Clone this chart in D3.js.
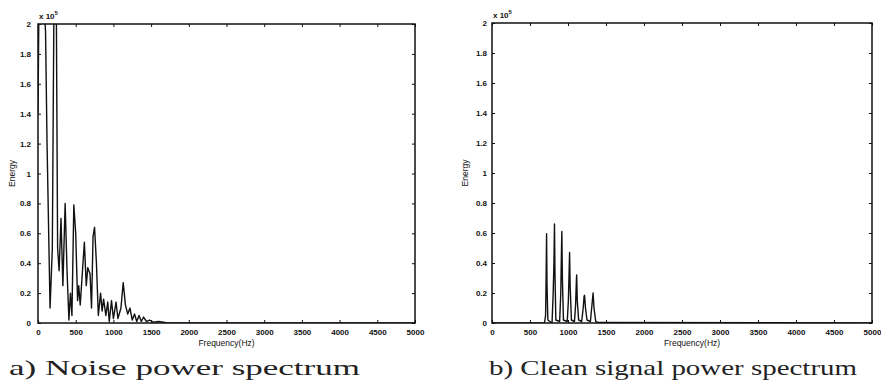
<!DOCTYPE html>
<html>
<head>
<meta charset="utf-8">
<script src="https://cdn.jsdelivr.net/npm/d3@7"></script>
<style>
  body { margin: 0; background: #fff; }
  svg { display: block; }
  .tick text { font-family: "Liberation Sans", Arial, sans-serif; font-weight: bold; font-size: 8px; }
</style>
</head>
<body>
<svg id="chart" width="881" height="387"></svg>
<script>
// values in units of 10^5, frequencies in Hz
var noiseFreq = [0, 20, 60, 100, 120, 160, 190, 215, 240, 260, 280, 305, 330, 360, 385, 410, 430, 450,
  475, 500, 525, 540, 560, 590, 615, 640, 660, 690, 710, 730, 750, 775, 800, 830, 850, 870, 900,
  925, 945, 975, 1000, 1035, 1060, 1100, 1130, 1160, 1190, 1220, 1250, 1280, 1310, 1340, 1370,
  1400, 1440, 1480, 1530, 1600, 1700, 2000, 5000];
var noiseEnergy = [1.4, 2.6, 2.3, 1.95, 1.2, 0.1, 0.5, 2.4, 2.4, 0.5, 0.35, 0.7, 0.25, 0.8, 0.35, 0.02, 0.2, 0.05,
  0.79, 0.6, 0.15, 0.25, 0.12, 0.35, 0.54, 0.25, 0.37, 0.33, 0.1, 0.58, 0.64, 0.4, 0.05, 0.2, 0.08, 0.16, 0.05,
  0.14, 0.01, 0.15, 0.03, 0.14, 0.03, 0.1, 0.27, 0.12, 0.06, 0.1, 0.02, 0.06, 0.01, 0.05, 0.01,
  0.04, 0.01, 0.02, 0.005, 0.01, 0.002, 0.001, 0];

var cleanFreq = [0, 690, 705, 712, 718, 724, 735,
  790, 805, 815, 822, 828, 840,
  890, 905, 913, 919, 926, 940,
  990, 1005, 1015, 1021, 1028, 1045,
  1085, 1100, 1110, 1114, 1122, 1140,
  1180, 1200, 1212, 1218, 1230, 1250,
  1295, 1315, 1330, 1342, 1365, 1400, 5000];
var cleanEnergy = [0, 0, 0.05, 0.3, 0.595, 0.25, 0.02,
  0, 0.2, 0.4, 0.66, 0.35, 0.02,
  0.01, 0.2, 0.45, 0.61, 0.3, 0.02,
  0.01, 0.15, 0.35, 0.47, 0.25, 0.02,
  0.01, 0.12, 0.28, 0.32, 0.15, 0.02,
  0.01, 0.1, 0.18, 0.185, 0.1, 0.02,
  0.01, 0.12, 0.2, 0.1, 0.01, 0.003, 0];

var xTicks = [0, 500, 1000, 1500, 2000, 2500, 3000, 3500, 4000, 4500, 5000];
var yTicks = [0, 0.2, 0.4, 0.6, 0.8, 1, 1.2, 1.4, 1.6, 1.8, 2];
var captions = ["a) Noise power spectrum", "b) Clean signal power spectrum"];

var svg = d3.select('#chart');

var panels = [
  {id: 'a', freq: noiseFreq, energy: noiseEnergy, left: 38, right: 415, top: 24, bottom: 323,
   yLabelX: 15, yTickPad: 4, capLeft: 9, capWidth: 351},
  {id: 'b', freq: cleanFreq, energy: cleanEnergy, left: 492, right: 872, top: 23, bottom: 323,
   yLabelX: 468, yTickPad: 2, capLeft: 489, capWidth: 368}
];

panels.forEach(function(p, i){
  var x = d3.scaleLinear().domain([0, 5000]).range([p.left, p.right]);
  var y = d3.scaleLinear().domain([0, 2]).range([p.bottom, p.top]);
  var g = svg.append('g');

  g.append('clipPath').attr('id', 'clip' + p.id)
    .append('rect')
    .attr('x', p.left).attr('y', p.top)
    .attr('width', p.right - p.left).attr('height', p.bottom - p.top);

  var pts = p.freq.map(function(f, k){ return [f, p.energy[k]]; });
  var line = d3.line().x(function(d){ return x(d[0]); }).y(function(d){ return y(d[1]); });

  g.append('path')
    .datum(pts)
    .attr('clip-path', 'url(#clip' + p.id + ')')
    .attr('d', line)
    .attr('fill', 'none')
    .attr('stroke', '#111')
    .attr('stroke-width', 1.4)
    .attr('stroke-linejoin', 'round');

  // inward ticks on all four sides, matlab style
  var tickFmt = function(d){ return d; };
  g.append('g').attr('transform', 'translate(0,' + p.bottom + ')')
    .call(d3.axisBottom(x).tickValues(xTicks).tickSize(-3).tickPadding(6).tickFormat(tickFmt));
  g.append('g').attr('transform', 'translate(0,' + p.top + ')')
    .call(d3.axisTop(x).tickValues(xTicks).tickSize(-3).tickFormat(''));
  g.append('g').attr('transform', 'translate(' + p.left + ',0)')
    .call(d3.axisLeft(y).tickValues(yTicks).tickSize(-3).tickPadding(p.yTickPad + 3).tickFormat(tickFmt));
  g.append('g').attr('transform', 'translate(' + p.right + ',0)')
    .call(d3.axisRight(y).tickValues(yTicks).tickSize(-3).tickFormat(''));

  g.selectAll('.domain').remove();
  g.selectAll('.tick line').attr('stroke', '#111').attr('stroke-width', 1);
  g.selectAll('.tick text').attr('fill', '#111');

  g.append('rect')
    .attr('x', p.left).attr('y', p.top)
    .attr('width', p.right - p.left).attr('height', p.bottom - p.top)
    .attr('fill', 'none').attr('stroke', '#111').attr('stroke-width', 1.5);

  var sans = '"Liberation Sans", Arial, sans-serif';

  var mult = g.append('text')
    .attr('x', p.left + 1).attr('y', p.top - 5)
    .attr('font-family', sans).attr('font-weight', 'bold').attr('font-size', 8)
    .attr('fill', '#111');
  mult.append('tspan').text('x 10');
  mult.append('tspan').attr('dy', -4).attr('font-size', 6).text('5');

  g.append('text')
    .attr('transform', 'translate(' + p.yLabelX + ',' + ((p.top + p.bottom) / 2) + ') rotate(-90)')
    .attr('text-anchor', 'middle')
    .attr('font-family', sans).attr('font-size', 8.5).attr('fill', '#111')
    .text('Energy');

  g.append('text')
    .attr('x', (p.left + p.right) / 2 + (i === 0 ? 0 : 10)).attr('y', 346)
    .attr('text-anchor', 'middle')
    .attr('font-family', sans).attr('font-size', 8.5).attr('fill', '#111')
    .text('Frequency(Hz)');

  g.append('text')
    .attr('x', p.capLeft).attr('y', 375)
    .attr('textLength', p.capWidth).attr('lengthAdjust', 'spacingAndGlyphs')
    .attr('font-family', '"Liberation Serif", "DejaVu Serif", serif').attr('font-size', 21)
    .attr('fill', '#222')
    .text(captions[i]);
});
</script>
</body>
</html>
